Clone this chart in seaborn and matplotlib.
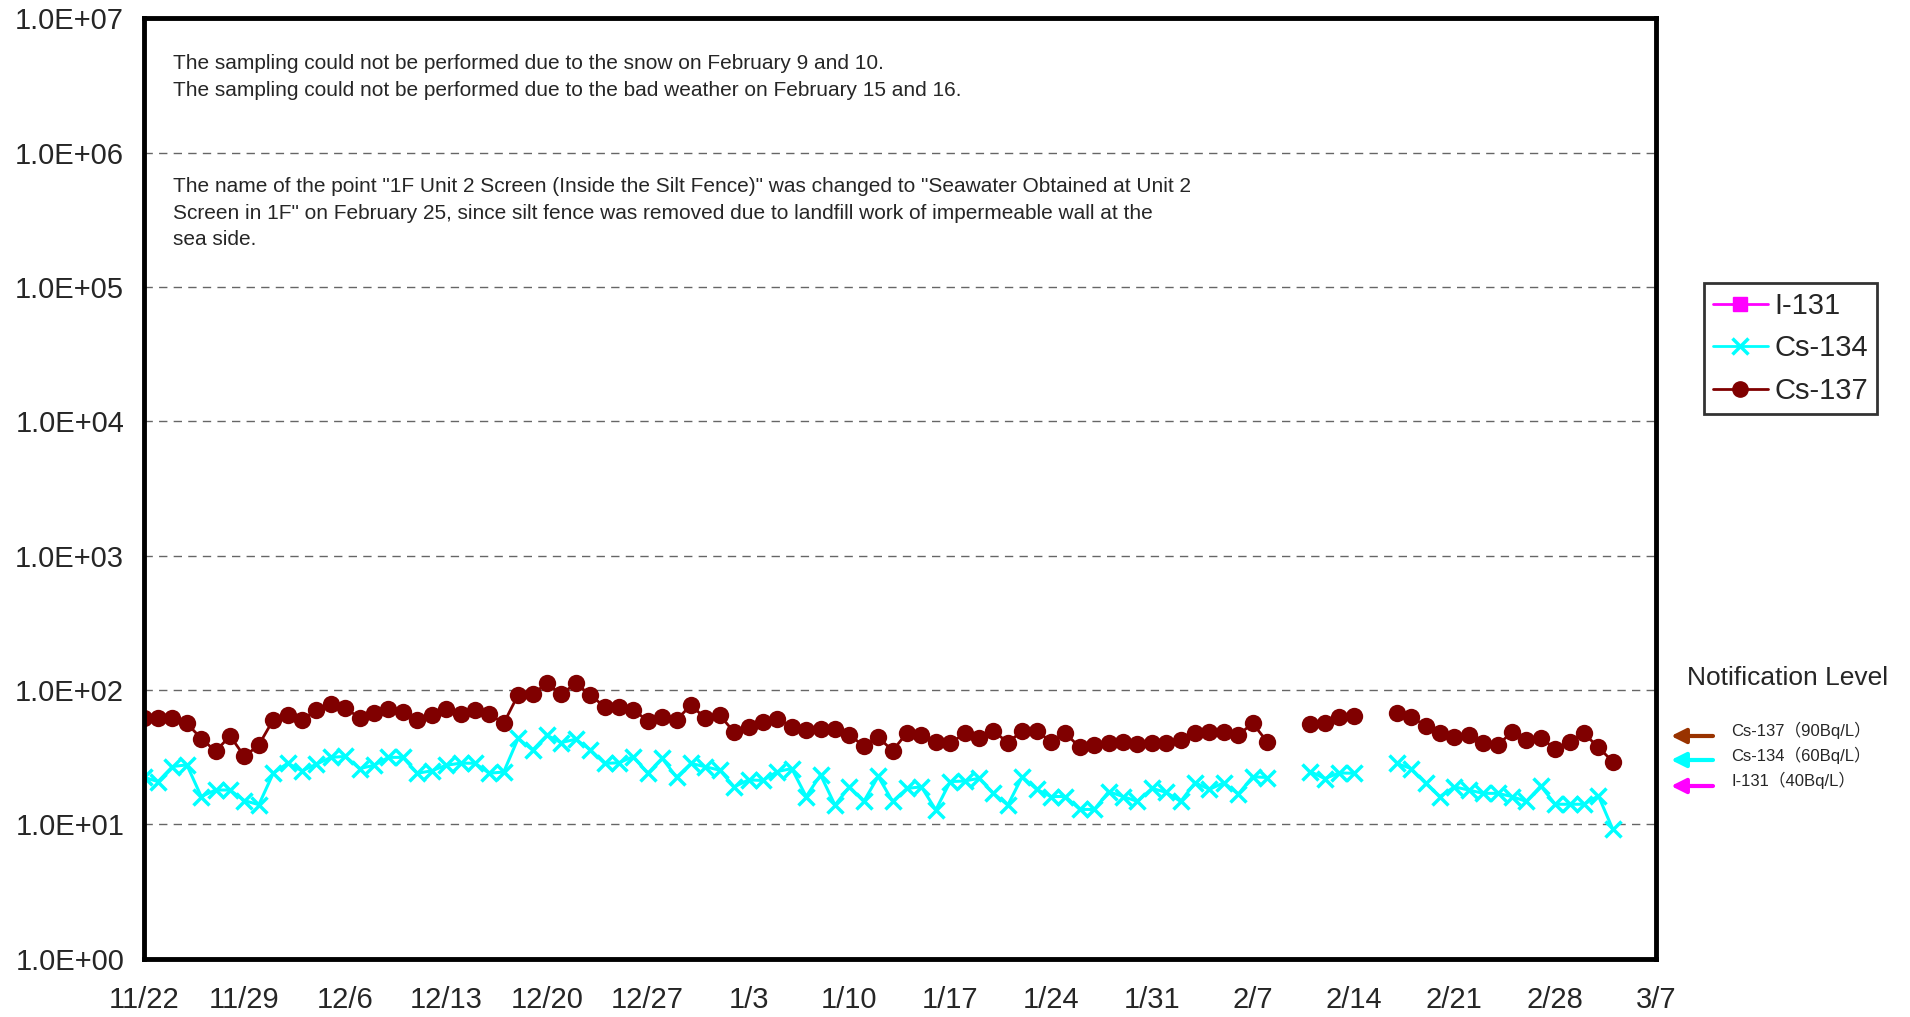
import matplotlib
matplotlib.use("Agg")
import matplotlib.pyplot as plt
from matplotlib.lines import Line2D
import seaborn as sns
import pandas as pd
import numpy as np

# daily sampling, 2013-11-22 .. 2014-03-04 (NaN = no sampling)
start_date = "2013-11-22"
end_date = "2014-03-04"

cs137 = [62, 61.5, 62, 56.5, 43.5, 35, 45.5, 32, 39, 60,
         65, 60, 71, 79, 74, 61.5, 67, 72, 69, 59.5,
         65, 72, 66, 71, 66, 56.5, 92, 93, 112, 93,
         112, 92, 75, 75, 71, 59, 62.7, 60, 77, 61.5,
         65, 48.4, 53.3, 57.4, 60.5, 53.3, 50.3, 51, 51, 46.2,
         38.3, 44.5, 35.3, 48, 46, 41.2, 40.1, 47.5, 43.6, 49.5,
         40.6, 49.5, 49.5, 41.2, 47.5, 37.4, 38.9, 40.1, 41.2, 39.5,
         40.1, 40.1, 42.5, 48.1, 48.4, 49, 46.2, 56.5, 41.2, np.nan,
         np.nan, 55.8, 56.5, 63.2, 64.4, np.nan, np.nan, 67.8, 63.2, 54.2,
         47.5, 44.5, 46, 40.1, 38.9, 48.4, 42.5, 44.2, 36.4, 41.2,
         47.5, 37.4, 29.3]

cs134 = [22.4, 20.8, 26.9, 27.7, 16.1, 18, 18, 15, 14, 24,
         28.5, 25, 28, 31.5, 32, 26, 27.5, 31.5, 31.5, 24,
         25, 27.5, 28.5, 28.5, 24, 24.5, 43.6, 35.7, 46, 40.6,
         43, 36, 28.4, 28.7, 31.9, 24, 31, 22.4, 28.4, 26.8,
         25.3, 19, 21.4, 21.2, 24.7, 26, 16.1, 23.3, 13.9, 19,
         14.8, 22.7, 14.8, 18.5, 19, 12.8, 20.8, 21, 22, 17,
         13.9, 22.6, 18.2, 16.1, 16.1, 12.9, 12.9, 17.5, 16.1, 14.8,
         18.5, 17.3, 14.8, 20.4, 18.2, 20.4, 16.8, 22.6, 22.3, np.nan,
         np.nan, 24.7, 21.9, 24.1, 24, np.nan, np.nan, 28.4, 26, 20.2,
         16.1, 19, 18, 17, 17, 16.1, 14.8, 19.3, 14.1, 14.1,
         14.1, 16.3, 9.2]

xtick_dates = ["2013-11-22", "2013-11-29", "2013-12-06", "2013-12-13", "2013-12-20",
               "2013-12-27", "2014-01-03", "2014-01-10", "2014-01-17", "2014-01-24",
               "2014-01-31", "2014-02-07", "2014-02-14", "2014-02-21", "2014-02-28",
               "2014-03-07"]
xtick_labels = ["11/22", "11/29", "12/6", "12/13", "12/20", "12/27", "1/3", "1/10",
                "1/17", "1/24", "1/31", "2/7", "2/14", "2/21", "2/28", "3/7"]
ytick_values = [1, 10, 100, 1e3, 1e4, 1e5, 1e6, 1e7]
ytick_labels = ["1.0E+00", "1.0E+01", "1.0E+02", "1.0E+03", "1.0E+04",
                "1.0E+05", "1.0E+06", "1.0E+07"]

notif_labels = ["Cs-137（90Bq/L）", "Cs-134（60Bq/L）", "I-131（40Bq/L）"]
notif_colors = ["#993300", "#00FFFF", "#FF00FF"]

note1 = ("The sampling could not be performed due to the snow on February 9 and 10.\n"
         "The sampling could not be performed due to the bad weather on February 15 and 16.")
note2 = ("The name of the point \"1F Unit 2 Screen (Inside the Silt Fence)\" was changed to \"Seawater Obtained at Unit 2\n"
         "Screen in 1F\" on February 25, since silt fence was removed due to landfill work of impermeable wall at the\n"
         "sea side.")

df = pd.DataFrame({"date": pd.date_range(start_date, end_date),
                   "Cs-137": cs137, "Cs-134": cs134})
# break the lines at missing days
df["segment"] = df["Cs-137"].isna().cumsum()

sns.set_style("white")
plt.rcParams["font.family"] = ["Liberation Sans", "Noto Sans CJK JP", "DejaVu Sans"]

fig = plt.figure(figsize=(19.1, 10.17), dpi=100)
ax = fig.add_axes([0.0752, 0.0574, 0.7918, 0.9246])

d134 = df.dropna(subset=["Cs-134"])
sns.lineplot(data=d134, x="date", y="Cs-134", units="segment", estimator=None,
             color="#00FFFF", marker="x", markersize=12, markeredgewidth=2.5,
             markeredgecolor="#00FFFF", linewidth=2.2, ax=ax, legend=False)
d137 = df.dropna(subset=["Cs-137"])
sns.lineplot(data=d137, x="date", y="Cs-137", units="segment", estimator=None,
             color="#800000", marker="o", markersize=12.5, markeredgewidth=0,
             markeredgecolor="#800000", linewidth=2, ax=ax, legend=False)

ax.set_yscale("log")
ax.set_ylim(1, 1e7)
ax.set_xlim(pd.Timestamp("2013-11-22"), pd.Timestamp("2014-03-07"))
ax.set_yticks(ytick_values)
ax.set_yticklabels(ytick_labels)
ax.minorticks_off()
ax.set_xticks(pd.to_datetime(xtick_dates))
ax.set_xticklabels(xtick_labels)
ax.set_xlabel("")
ax.set_ylabel("")
ax.tick_params(axis="x", direction="in", length=6, width=1, color="#444444",
               labelsize=21, pad=20)
ax.tick_params(axis="y", length=0, labelsize=21, pad=14)
ax.yaxis.grid(True, linestyle=(0, (6, 4.5)), color="#666666", linewidth=1)
ax.xaxis.grid(False)
for sp in ax.spines.values():
    sp.set_linewidth(3.5)
    sp.set_color("black")

narrow = ["Liberation Sans Narrow", "Liberation Sans"]
ax.text(0.0195, 0.962, note1, transform=ax.transAxes, fontsize=15, family=narrow,
        va="top", ha="left", linespacing=1.5)
ax.text(0.0195, 0.831, note2, transform=ax.transAxes, fontsize=15, family=narrow,
        va="top", ha="left", linespacing=1.5)

handles = [Line2D([], [], color="#FF00FF", marker="s", markersize=10, lw=2),
           Line2D([], [], color="#00FFFF", marker="x", markersize=11, markeredgewidth=2.5, lw=2),
           Line2D([], [], color="#800000", marker="o", markersize=11, lw=2)]
leg = ax.legend(handles, ["I-131", "Cs-134", "Cs-137"], loc="upper left",
                bbox_to_anchor=(1704 / 1910, 1 - 283 / 1017),
                bbox_transform=fig.transFigure, borderaxespad=0, fontsize=21,
                frameon=True, fancybox=False, edgecolor="black",
                handlelength=1.9, handletextpad=0.2, borderpad=0.3,
                labelspacing=0.5)
leg.get_frame().set_linewidth(2)

fig.text(1687 / 1910, 1 - 678 / 1017, "Notification Level", fontsize=19,
         ha="left", va="center")
arrow_y = [736, 760, 786]
text_y = [730, 755, 780]
for lab, col, ay, ty in zip(notif_labels, notif_colors, arrow_y, text_y):
    ax.annotate("", xy=(1671, 1017 - ay), xytext=(1713, 1017 - ay),
                xycoords="figure pixels", textcoords="figure pixels",
                arrowprops=dict(arrowstyle="-|>", color=col, lw=3,
                                mutation_scale=22, shrinkA=0, shrinkB=0))
    fig.text(1731 / 1910, 1 - ty / 1017, lab, fontsize=12, ha="left", va="center")

fig.savefig("out.png", dpi=100)
